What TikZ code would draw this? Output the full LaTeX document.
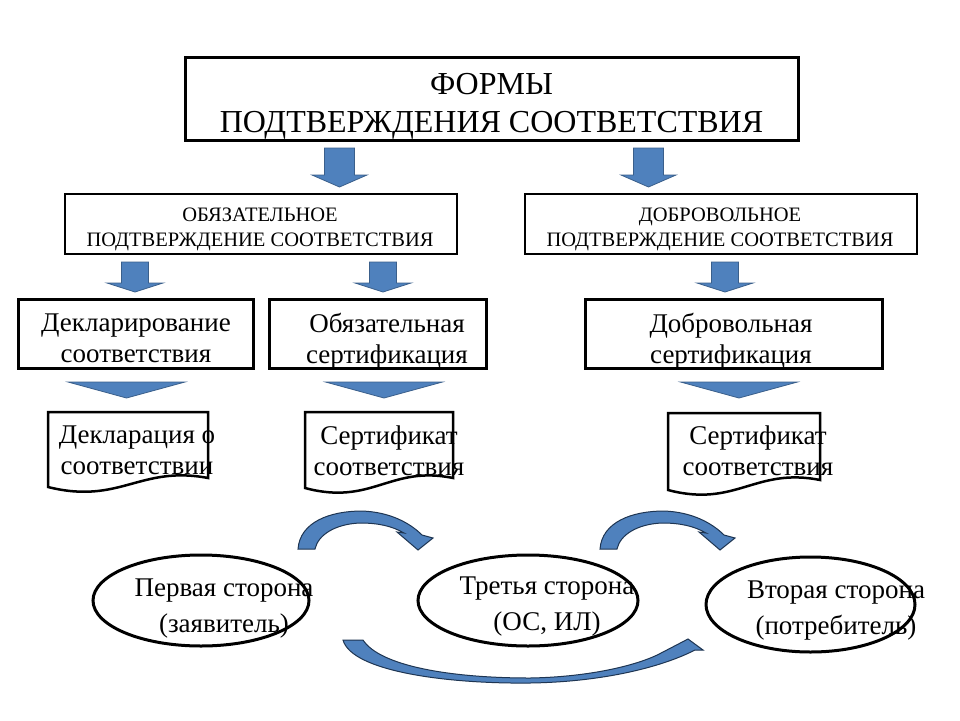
\documentclass[tikz,border=0pt]{standalone}
\usepackage{fontspec}
\setmainfont{Liberation Serif}
\usetikzlibrary{shapes.geometric}
\definecolor{arrowblue}{HTML}{4F81BD}
\definecolor{arrowedge}{HTML}{3A5F8B}
\definecolor{curveedge}{HTML}{1E3552}
\tikzset{
  bigdown/.pic={\path[blockarrow] (-15,0) -- (15,0) -- (15,27) -- (27.5,27) -- (0,39) -- (-27.5,27) -- (-15,27) -- cycle;},
  smalldown/.pic={\path[blockarrow] (-13.5,0) -- (13.5,0) -- (13.5,21) -- (28,21) -- (0,30) -- (-28,21) -- (-13.5,21) -- cycle;},
  wedgedown/.pic={\path[blockarrow] (-58.5,0) -- (58.5,0) -- (0,16) -- cycle;},
  bendarrow/.pic={\path[curvearrow] (0,0) .. controls (2,-27) and (32,-38) .. (64,-38) .. controls (92,-37) and (112,-26) .. (124,-14) -- (135,-11) -- (120,1) -- (99,-17) -- (106,-16) .. controls (94,-23) and (80,-26) .. (62,-26) .. controls (37,-25) and (20,-14) .. (17,0) -- cycle;}
}
\begin{document}
\begin{tikzpicture}[x=1pt,y=-1pt,
  frame/.style={draw=black,line width=3pt,inner sep=0pt,rectangle},
  oval/.style={draw=black,line width=3pt,ellipse,inner sep=0pt},
  lbl/.style={align=center,inner sep=0pt,font=\fontsize{27}{31}\selectfont},
  olbl/.style={align=center,inner sep=0pt,font=\fontsize{27}{36}\selectfont},
  blockarrow/.style={fill=arrowblue,draw=arrowedge,line width=0.8pt,line join=miter},
  curvearrow/.style={fill=arrowblue,draw=curveedge,line width=1pt,line join=miter},
  docline/.style={draw=black,line width=2.5pt,line join=miter}]
\useasboundingbox (0,0) rectangle (960,720);
\fill[white] (0,0) rectangle (960,720);

% top
\node[frame,minimum width=613pt,minimum height=83pt] (top) at (491.5,98.5) {};
\node[lbl,font=\fontsize{32}{38}\selectfont] (topt) at (491.5,106) {ФОРМЫ\\ПОДТВЕРЖДЕНИЯ СООТВЕТСТВИЯ};

\pic at (339.5,148) {bigdown};
\pic at (648.5,148) {bigdown};

% second level
\node[frame,line width=2.5pt,minimum width=392pt,minimum height=60pt] (mand) at (261,224) {};
\node[lbl,font=\fontsize{20.5}{25}\selectfont] (mandt) at (260,229.5) {ОБЯЗАТЕЛЬНОЕ\\ПОДТВЕРЖДЕНИЕ СООТВЕТСТВИЯ};
\node[frame,line width=2.5pt,minimum width=392pt,minimum height=60pt] (vol) at (721,224) {};
\node[lbl,font=\fontsize{20.5}{25}\selectfont] (volt) at (720,229.5) {ДОБРОВОЛЬНОЕ\\ПОДТВЕРЖДЕНИЕ СООТВЕТСТВИЯ};

\pic at (135,262) {smalldown};
\pic at (383,262) {smalldown};
\pic at (725,262) {smalldown};

% third level
\node[frame,minimum width=235pt,minimum height=69pt] (decl) at (135.5,333.5) {};
\node[lbl] (declt) at (136,338) {Декларирование\\соответствия};
\node[frame,minimum width=217pt,minimum height=69pt] (mcert) at (377.5,333.5) {};
\node[lbl] (mcertt) at (387,341) {Обязательная\\сертификация};
\node[frame,minimum width=297pt,minimum height=69pt] (vcert) at (733.5,333.5) {};
\node[lbl] (vcertt) at (731,341) {Добровольная\\сертификация};

\pic at (126.5,382) {wedgedown};
\pic at (384,382) {wedgedown};
\pic at (739,382) {wedgedown};

% documents
\draw[docline] (48,412) -- (208,412) -- (208,478) .. controls (140,465) and (120,505) .. (48,487) -- cycle;
\draw[docline] (305,412) -- (453,412) -- (453,478) .. controls (390,465) and (372,506) .. (305,488) -- cycle;
\draw[docline] (668,413) -- (820,413) -- (820,480) .. controls (755,467) and (736,508) .. (668,490) -- cycle;
\node[lbl] (d1t) at (137,450.5) {Декларация о\\соответствии};
\node[lbl] (d2t) at (389,450.5) {Сертификат\\соответствия};
\node[lbl] (d3t) at (758,450.5) {Сертификат\\соответствия};

% curved arrows
\pic at (298,549) {bendarrow};
\pic at (600,549) {bendarrow};
\path[curvearrow] (343,640) .. controls (352,672) and (450,684) .. (530,683) .. controls (600,682) and (660,668) .. (695,650) -- (703,650) -- (688,639) -- (663,652) .. controls (640,665) and (590,677) .. (530,678) .. controls (450,678) and (380,666) .. (363,640) -- cycle;

% parties
\node[oval,minimum width=216pt,minimum height=91pt] (first) at (201,600.5) {};
\node[olbl] (firstt) at (224,608.5) {Первая сторона\\(заявитель)};
\node[oval,minimum width=220pt,minimum height=91pt] (third) at (528,600.5) {};
\node[olbl] (thirdt) at (547,607) {Третья сторона\\(ОС, ИЛ)};
\node[oval,minimum width=209pt,minimum height=95pt] (second) at (810.5,604.5) {};
\node[olbl] (secondt) at (836,611) {Вторая сторона\\(потребитель)};
\end{tikzpicture}
\end{document}
